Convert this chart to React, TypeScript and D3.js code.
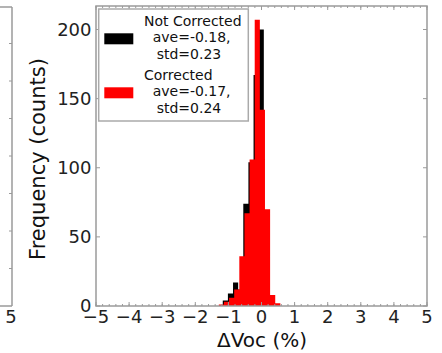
import React from "react";
import * as d3 from "d3";

// ---- data ----
const binWidth = 0.155;
const notCorrectedBinStart = [-1.17, -1.015, -0.86, -0.705, -0.55, -0.395, -0.24, -0.085, 0.07, 0.225, 0.38];
const notCorrectedCounts = [4, 9, 17, 12, 74, 104, 167, 200, 62, 7, 1];
const correctedBinStart = [-1.29, -1.135, -0.98, -0.825, -0.67, -0.515, -0.36, -0.205, -0.05, 0.105, 0.26, 0.415];
const correctedCounts = [1, 3, 6, 12, 36, 67, 106, 207, 142, 70, 8, 2];
const xTicks = [-5, -4, -3, -2, -1, 0, 1, 2, 3, 4, 5];
const yTicks = [0, 50, 100, 150, 200];
const legendNotCorrected = ["Not Corrected", "ave=-0.18,", "std=0.23"];
const legendCorrected = ["Corrected", "ave=-0.17,", "std=0.24"];
const leftPanelTicks = [0, 1, 2, 3, 4, 5, 6, 7, 8];

const W = 442, H = 353;
const L = 96, R = 427, T = 6, B = 306;
const spine = "#9a9a9a";
const font = "DejaVu Sans, sans-serif";

export default function App() {
  const x = d3.scaleLinear().domain([-5, 5]).range([L, R]);
  const y = d3.scaleLinear().domain([0, 217]).range([B, T]);
  const yLeft = d3.scaleLinear().domain([0, 8]).range([B, T]);
  const minor = d3.range(-5, 5.001, 0.2);
  const fmt = (v: number) => (v < 0 ? "\u2212" + Math.abs(v) : String(v));

  const stepPath = (starts: number[], counts: number[]) => {
    const p = d3.path();
    p.moveTo(x(starts[0]), y(0));
    starts.forEach((s, i) => {
      p.lineTo(x(s), y(counts[i]));
      p.lineTo(x(s + binWidth), y(counts[i]));
      p.lineTo(x(s + binWidth), y(0));
    });
    p.closePath();
    return p.toString();
  };

  const legendLine = (lines: string[], y0: number) =>
    lines.map((t, i) => (
      <text
        key={t}
        x={144 + (i === 0 ? 0 : i === 1 ? 8.7 : 12.7)}
        y={y0 + i * 16.3}
        fontSize={14}
        fontFamily={font}
        fill="#111"
      >
        {t}
      </text>
    ));

  return (
    <svg width={W} height={H} style={{ position: "absolute", left: 0, top: 0, background: "#fff" }}>
      {/* fragment of left panel */}
      <line x1={0} x2={12} y1={T + 1} y2={T + 1} stroke={spine} strokeWidth={1.5} />
      <line x1={0} x2={12} y1={B} y2={B} stroke={spine} strokeWidth={1.5} />
      <line x1={12} x2={12} y1={T + 1} y2={B} stroke={spine} strokeWidth={1.5} />
      {leftPanelTicks.slice(1, 8).map((t) => (
        <line key={"lt" + t} x1={12} x2={9} y1={yLeft(t)} y2={yLeft(t)} stroke={spine} strokeWidth={1} />
      ))}
      <text x={11} y={323} fontSize={18} fontFamily={font} textAnchor="middle" fill="#222">5</text>

      {/* bars */}
      <path d={stepPath(notCorrectedBinStart, notCorrectedCounts)} fill="#000" />
      <path d={stepPath(correctedBinStart, correctedCounts)} fill="#ff0000" />

      {/* minor ticks */}
      {minor.map((m, i) => (
        <g key={"mn" + i}>
          <line x1={x(m)} x2={x(m)} y1={B} y2={B - 2} stroke={spine} strokeWidth={1} />
          <line x1={x(m)} x2={x(m)} y1={T} y2={T + 2} stroke={spine} strokeWidth={1} />
        </g>
      ))}
      {xTicks.map((t) => (
        <g key={"xt" + t}>
          <line x1={x(t)} x2={x(t)} y1={B} y2={B - 4} stroke={spine} strokeWidth={1} />
          <line x1={x(t)} x2={x(t)} y1={T} y2={T + 4} stroke={spine} strokeWidth={1} />
          <text x={x(t)} y={323} fontSize={18} fontFamily={font} textAnchor="middle" fill="#222">
            {fmt(t)}
          </text>
        </g>
      ))}
      {yTicks.map((t) => (
        <g key={"yt" + t}>
          <line x1={L} x2={L + 4} y1={y(t)} y2={y(t)} stroke={spine} strokeWidth={1} />
          <line x1={R} x2={R - 4} y1={y(t)} y2={y(t)} stroke={spine} strokeWidth={1} />
          <text x={91.5} y={y(t) + 6.3} fontSize={18} fontFamily={font} textAnchor="end" fill="#222">
            {t}
          </text>
        </g>
      ))}

      {/* frame */}
      <rect x={L} y={T} width={R - L} height={B - T} fill="none" stroke={spine} strokeWidth={1.5} />

      {/* legend */}
      <rect x={98.7} y={9} width={149.6} height={112} fill="#fff" stroke="#aaa" strokeWidth={1.5} />
      <rect x={104.3} y={33.3} width={29} height={11} fill="#000" />
      <rect x={104.3} y={87.3} width={29} height={11} fill="#ff0000" />
      {legendLine(legendNotCorrected, 26)}
      {legendLine(legendCorrected, 80)}

      {/* axis titles */}
      <text
        transform={`translate(45, 159) rotate(-90)`}
        fontSize={21}
        fontFamily={font}
        textAnchor="middle"
        fill="#111"
      >
        Frequency (counts)
      </text>
      <text x={262} y={347} fontSize={20} fontFamily={font} textAnchor="middle" fill="#111">
        ΔVoc (%)
      </text>
    </svg>
  );
}
